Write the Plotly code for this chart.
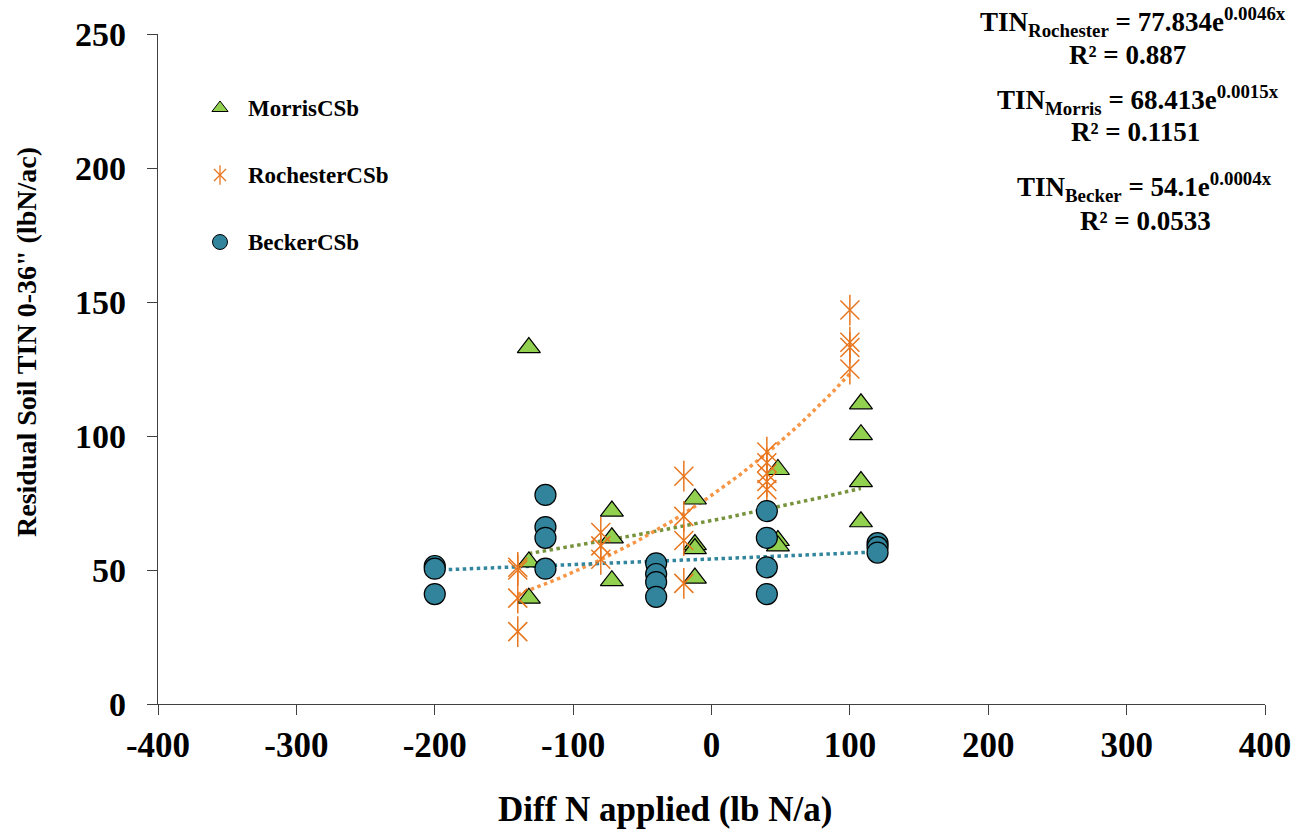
import numpy as np
import plotly.graph_objects as go

# ---------------- data ----------------
morris_x = [-132, -132, -132, -72, -72, -72, -12, -12, -12, -12, 48, 48, 48, 108, 108, 108, 108]
morris_y = [133, 53, 39.5, 72, 62, 46, 76.5, 59.5, 58, 47, 87.5, 61, 59, 112, 100.5, 83, 68]

roch_x = [-140, -140, -140, -140, -80, -80, -80, -20, -20, -20, -20, 40, 40, 40, 40, 40, 100, 100, 100, 100]
roch_y = [51, 50, 39.5, 27, 64, 59, 54, 85, 70, 61, 45, 94, 90, 86, 83, 80, 147, 135, 133, 125]

becker_x = [-200, -200, -200, -120, -120, -120, -120, -40, -40, -40, -40, 40, 40, 40, 40, 120, 120, 120]
becker_y = [51.5, 50.5, 41, 78, 66, 62, 50.5, 52.5, 48.5, 45.5, 40, 72, 62, 51, 41, 60, 58.5, 56.5]

# trend-line coefficients (exponential fits shown on chart)
roch_a, roch_b = 77.834, 0.0046
morris_a, morris_b = 68.413, 0.0015
becker_a, becker_b = 54.1, 0.0004

x_ticks = [-400, -300, -200, -100, 0, 100, 200, 300, 400]
y_ticks = [0, 50, 100, 150, 200, 250]

legend_names = ["MorrisCSb", "RochesterCSb", "BeckerCSb"]

# ---------------- styles ----------------
FONT = "Liberation Serif"
GREEN = "#92D050"
ORANGE = "#E8761E"
TEAL = "#31849B"
TL_GREEN = "#77933C"
TL_ORANGE = "#F79646"
TL_TEAL = "#31859C"

W, H = 1302, 831
L, R, T, B = 158, 37, 34, 127
PW, PH = W - L - R, H - T - B

def px_x(px):
    return (px - L) / PW

def px_y(py):
    return (H - B - py) / PH

fig = go.Figure()

def trend(xs, a, b):
    xx = np.linspace(min(xs), max(xs), 120)
    return xx, a * np.exp(b * xx)

# trendlines
for xs, a, b, col in [(morris_x, morris_a, morris_b, TL_GREEN),
                      (roch_x, roch_a, roch_b, TL_ORANGE),
                      (becker_x, becker_a, becker_b, TL_TEAL)]:
    tx, ty = trend(xs, a, b)
    fig.add_trace(go.Scatter(x=tx, y=ty, mode="lines", showlegend=False,
                             line=dict(color=col, width=3.5, dash="dot"),
                             hoverinfo="skip"))

# Morris
fig.add_trace(go.Scatter(x=morris_x, y=morris_y, mode="markers", name="MorrisCSb",
                         showlegend=False,
                         marker=dict(symbol="triangle-up", size=20, color=GREEN,
                                     line=dict(color="black", width=1.2))))
# Rochester (Excel-style asterisk: X + vertical line)
fig.add_trace(go.Scatter(x=roch_x, y=roch_y, mode="markers", name="RochesterCSb",
                         showlegend=False,
                         marker=dict(symbol="x-thin-open", size=19, color=ORANGE,
                                     line=dict(color=ORANGE, width=1.5))))
fig.add_trace(go.Scatter(x=roch_x, y=roch_y, mode="markers", showlegend=False,
                         marker=dict(symbol="line-ns-open", size=22, color=ORANGE,
                                     line=dict(color=ORANGE, width=1.5)),
                         hoverinfo="skip"))
# Becker
fig.add_trace(go.Scatter(x=becker_x, y=becker_y, mode="markers", name="BeckerCSb",
                         showlegend=False,
                         marker=dict(symbol="circle", size=21, color=TEAL,
                                     line=dict(color="black", width=1.2))))

# ---------------- manual legend on hidden overlay axis ----------------
leg_y = [px_y(108), px_y(175), px_y(242)]
leg_x = px_x(220)
fig.add_trace(go.Scatter(x=[leg_x], y=[leg_y[0]], xaxis="x2", yaxis="y2", mode="markers",
                         showlegend=False, hoverinfo="skip",
                         marker=dict(symbol="triangle-up", size=14, color=GREEN,
                                     line=dict(color="black", width=1))))
fig.add_trace(go.Scatter(x=[leg_x], y=[leg_y[1]], xaxis="x2", yaxis="y2", mode="markers",
                         showlegend=False, hoverinfo="skip",
                         marker=dict(symbol="x-thin-open", size=12, color=ORANGE,
                                     line=dict(color=ORANGE, width=1.3))))
fig.add_trace(go.Scatter(x=[leg_x], y=[leg_y[1]], xaxis="x2", yaxis="y2", mode="markers",
                         showlegend=False, hoverinfo="skip",
                         marker=dict(symbol="line-ns-open", size=14, color=ORANGE,
                                     line=dict(color=ORANGE, width=1.3))))
fig.add_trace(go.Scatter(x=[leg_x], y=[leg_y[2]], xaxis="x2", yaxis="y2", mode="markers",
                         showlegend=False, hoverinfo="skip",
                         marker=dict(symbol="circle", size=15, color=TEAL,
                                     line=dict(color="black", width=1))))

annotations = []
for name, yy in zip(legend_names, leg_y):
    annotations.append(dict(x=px_x(246), y=yy, xref="paper", yref="paper", text=f"<b>{name}</b>",
                            showarrow=False, xanchor="left", yanchor="middle",
                            font=dict(family=FONT, size=23, color="black")))

# equations
eqs = [
    ("<b>TIN<sub>Rochester</sub> = 77.834e<sup>0.0046x</sup></b>", 1133, 22),
    ("<b>R² = 0.887</b>", 1127, 55),
    ("<b>TIN<sub>Morris</sub> = 68.413e<sup>0.0015x</sup></b>", 1138, 100),
    ("<b>R² = 0.1151</b>", 1135, 132),
    ("<b>TIN<sub>Becker</sub> = 54.1e<sup>0.0004x</sup></b>", 1144, 187),
    ("<b>R² = 0.0533</b>", 1145, 221),
]
for txt, px, py in eqs:
    annotations.append(dict(x=px_x(px), y=px_y(py), xref="paper", yref="paper", text=txt,
                            showarrow=False, xanchor="center", yanchor="middle",
                            font=dict(family=FONT, size=27, color="black")))

# axis titles
annotations.append(dict(x=px_x(665), y=px_y(809), xref="paper", yref="paper",
                        text="<b>Diff N applied (lb N/a)</b>", showarrow=False,
                        xanchor="center", yanchor="middle",
                        font=dict(family=FONT, size=35, color="black")))
annotations.append(dict(x=px_x(26), y=px_y(342), xref="paper", yref="paper",
                        text="<b>Residual Soil TIN 0-36\" (lbN/ac)</b>", showarrow=False,
                        textangle=-90, xanchor="center", yanchor="middle",
                        font=dict(family=FONT, size=28, color="black")))

fig.update_layout(
    width=W, height=H,
    margin=dict(l=L, r=R, t=T, b=B),
    paper_bgcolor="white", plot_bgcolor="white",
    showlegend=False,
    font=dict(family=FONT, color="black"),
    xaxis=dict(range=[-400, 400], tickvals=x_ticks, ticktext=[f"<b>{v}</b>" for v in x_ticks],
               showgrid=False, zeroline=False, showline=True, linecolor="#404040", linewidth=1.3,
               ticks="outside", ticklen=10, tickcolor="#404040", tickwidth=1.3,
               ticklabelstandoff=0,
               tickfont=dict(family=FONT, size=35, color="black")),
    yaxis=dict(range=[0, 250], tickvals=y_ticks, ticktext=[f"<b>{v}</b>" for v in y_ticks],
               showgrid=False, zeroline=False, showline=True, linecolor="#404040", linewidth=1.3,
               ticks="outside", ticklen=10, tickcolor="#404040", tickwidth=1.3,
               ticklabelstandoff=14,
               tickfont=dict(family=FONT, size=34, color="black")),
    xaxis2=dict(range=[0, 1], domain=[0, 1], overlaying="x", visible=False, anchor="y2"),
    yaxis2=dict(range=[0, 1], domain=[0, 1], overlaying="y", visible=False, anchor="x2"),
    annotations=annotations,
)

fig.write_html("out.html")
